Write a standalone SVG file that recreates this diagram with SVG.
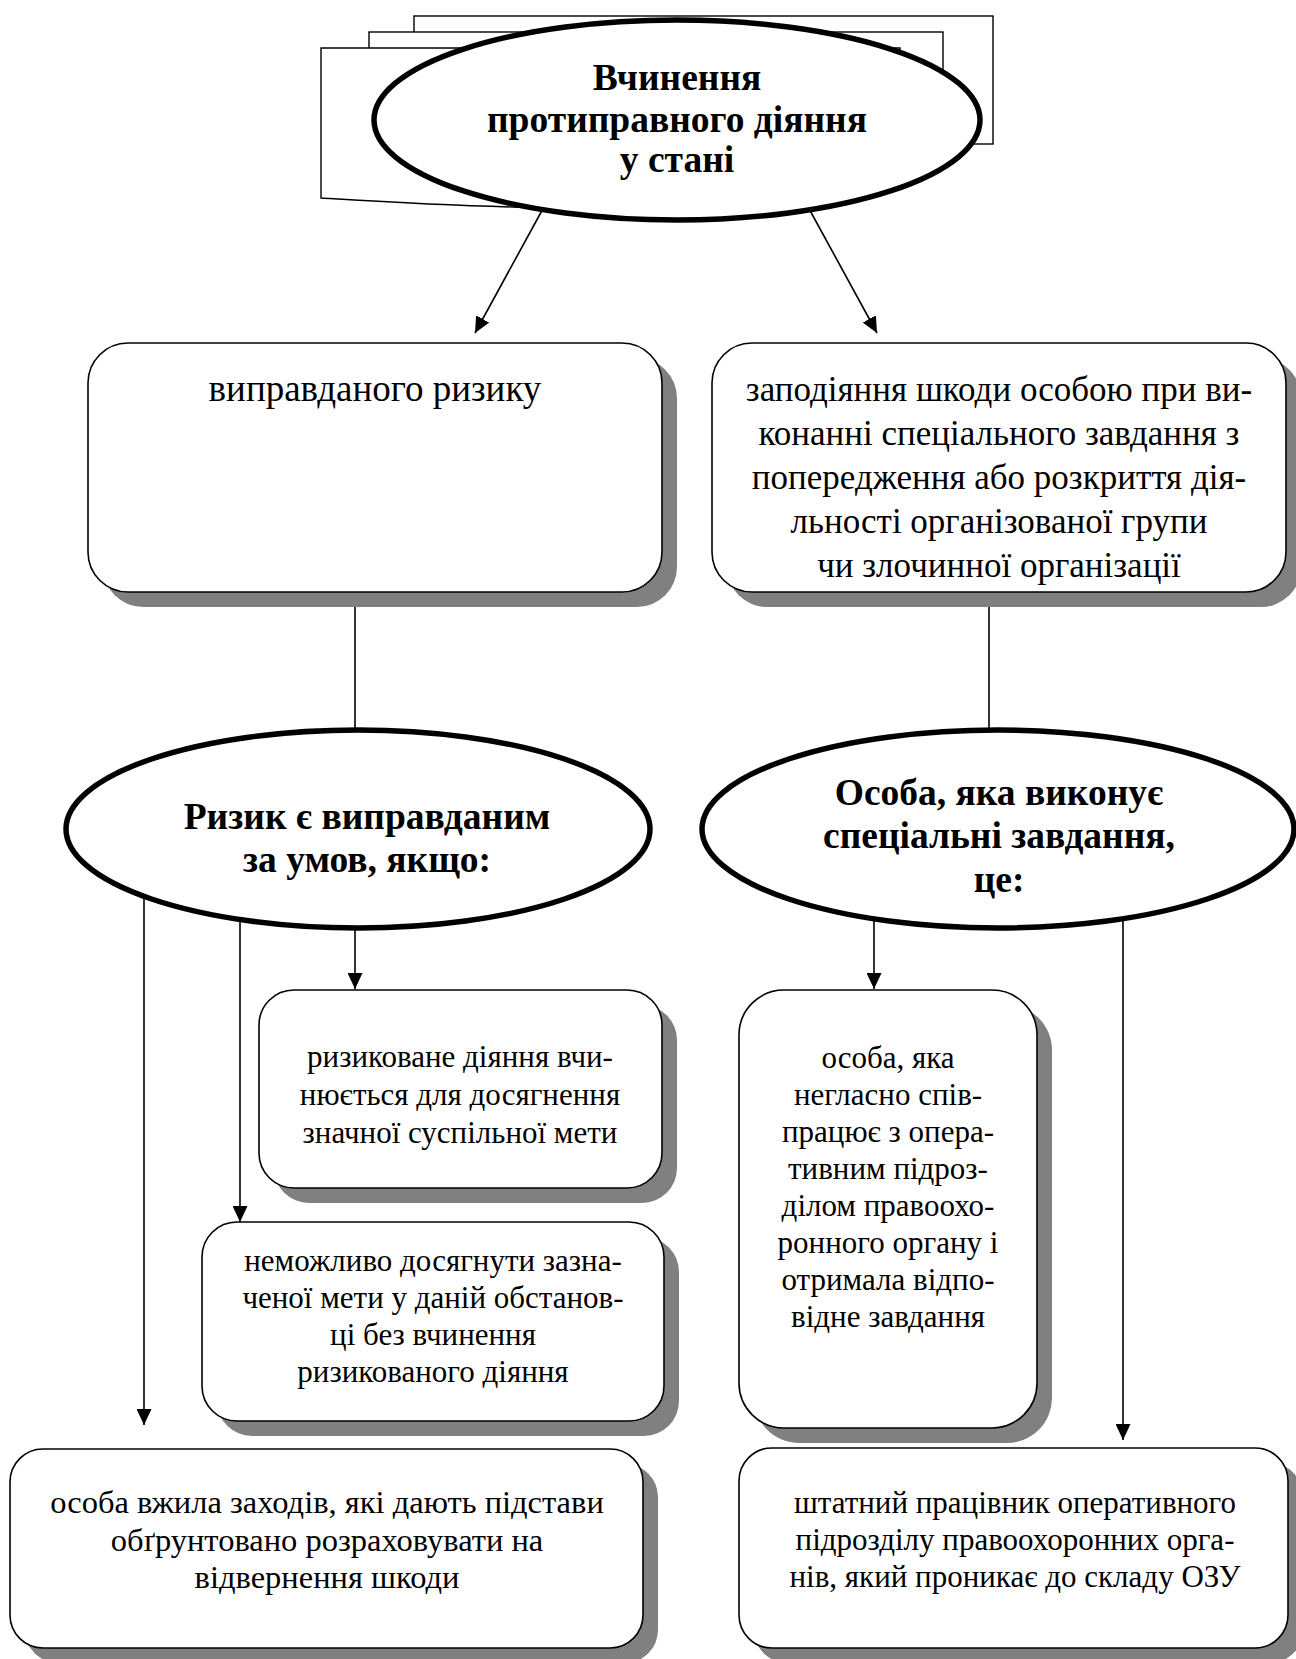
<svg xmlns="http://www.w3.org/2000/svg" width="1296" height="1659" viewBox="0 0 1296 1659">
<style>
.bg{fill:#ffffff}
.doc{fill:#ffffff;stroke:#000;stroke-width:1.4}
.ell{fill:#ffffff;stroke:#000;stroke-width:5.5}
.box{fill:#ffffff;stroke:#000;stroke-width:1.6}
.sh{fill:#808080}
.con{fill:none;stroke:#000;stroke-width:1.6}
.t{font-size:31px;fill:#000;text-anchor:middle}
.t37{font-size:37px;fill:#000;text-anchor:middle}
.t35{font-size:35px;fill:#000;text-anchor:middle}
.t33{font-size:32.5px;fill:#000;text-anchor:middle}
.b{font-size:37.5px;font-weight:bold;fill:#000;text-anchor:middle}
</style>
<defs>
<marker id="ah" markerUnits="userSpaceOnUse" markerWidth="16" markerHeight="15" refX="16" refY="7.5" orient="auto">
<path d="M0,0 L16,7.5 L0,15 Z" fill="#000"/>
</marker>
</defs>
<rect class="bg" x="0" y="0" width="1296" height="1659"/>

<g id="connectors">
<line class="con" x1="545" y1="205" x2="475" y2="333" marker-end="url(#ah)"/>
<line class="con" x1="807" y1="205" x2="877" y2="333" marker-end="url(#ah)"/>
<line class="con" x1="355" y1="592" x2="355" y2="740"/>
<line class="con" x1="989" y1="592" x2="989" y2="740"/>
<line class="con" x1="144" y1="880" x2="144" y2="1425" marker-end="url(#ah)"/>
<line class="con" x1="240" y1="900" x2="240" y2="1222" marker-end="url(#ah)"/>
<line class="con" x1="355" y1="910" x2="355" y2="989" marker-end="url(#ah)"/>
<line class="con" x1="874" y1="910" x2="874" y2="989" marker-end="url(#ah)"/>
<line class="con" x1="1123" y1="900" x2="1123" y2="1440" marker-end="url(#ah)"/>
</g>

<g font-family="'Liberation Serif', 'Times New Roman', 'DejaVu Serif', serif">
<g id="node-top">
<rect class="doc" x="414" y="16" width="579" height="128"/>
<rect class="doc" x="369" y="32" width="574" height="128"/>
<path class="doc" d="M321,48 H900 V182 C760,150 640,212 513,207 C430,205 370,201 321,198 Z"/>
<ellipse class="ell" cx="677" cy="120" rx="303" ry="100"/>
<text class="b" x="677" y="90">Вчинення</text>
<text class="b" x="677" y="132">протиправного діяння</text>
<text class="b" x="677" y="172">у стані</text>
</g>

<g id="node-risk">
<rect class="sh" x="103" y="358" width="574" height="249" rx="40"/>
<rect class="box" x="88" y="343" width="574" height="249" rx="40"/>
<text class="t37" x="375" y="401">виправданого ризику</text>
</g>

<g id="node-task">
<rect class="sh" x="727" y="358" width="574" height="249" rx="40"/>
<rect class="box" x="712" y="343" width="574" height="249" rx="40"/>
<text class="t35" x="999" y="401">заподіяння шкоди особою при ви-</text>
<text class="t35" x="999" y="445">конанні спеціального завдання з</text>
<text class="t35" x="999" y="489">попередження або розкриття дія-</text>
<text class="t35" x="999" y="533">льності організованої групи</text>
<text class="t35" x="999" y="577">чи злочинної організації</text>
</g>

<g id="node-risk-cond">
<ellipse class="ell" cx="358" cy="829" rx="292" ry="99"/>
<text class="b" x="367" y="829">Ризик є виправданим</text>
<text class="b" x="367" y="872">за умов, якщо:</text>
</g>

<g id="node-person">
<ellipse class="ell" cx="998" cy="829" rx="296" ry="99"/>
<text class="b" x="999" y="805">Особа, яка виконує</text>
<text class="b" x="999" y="848">спеціальні завдання,</text>
<text class="b" x="999" y="892">це:</text>
</g>

<g id="node-goal">
<rect class="sh" x="274" y="1005" width="403" height="198" rx="35"/>
<rect class="box" x="259" y="990" width="403" height="198" rx="35"/>
<text class="t" x="460" y="1067">ризиковане діяння вчи-</text>
<text class="t" x="460" y="1105">нюється для досягнення</text>
<text class="t" x="460" y="1143">значної суспільної мети</text>
</g>

<g id="node-impossible">
<rect class="sh" x="217" y="1237" width="462" height="199" rx="35"/>
<rect class="box" x="202" y="1222" width="462" height="199" rx="35"/>
<text class="t" x="433" y="1271">неможливо досягнути зазна-</text>
<text class="t" x="433" y="1308">ченої мети у даній обстанов-</text>
<text class="t" x="433" y="1345">ці без вчинення</text>
<text class="t" x="433" y="1382">ризикованого діяння</text>
</g>

<g id="node-secret">
<rect class="sh" x="754" y="1005" width="298" height="438" rx="45"/>
<rect class="box" x="739" y="990" width="298" height="438" rx="45"/>
<text class="t" x="888" y="1068">особа, яка</text>
<text class="t" x="888" y="1105">негласно спів-</text>
<text class="t" x="888" y="1142">працює з опера-</text>
<text class="t" x="888" y="1179">тивним підроз-</text>
<text class="t" x="888" y="1216">ділом правоохо-</text>
<text class="t" x="888" y="1253">ронного органу і</text>
<text class="t" x="888" y="1290">отримала відпо-</text>
<text class="t" x="888" y="1327">відне завдання</text>
</g>

<g id="node-measures">
<rect class="sh" x="25" y="1464" width="633" height="199" rx="33"/>
<rect class="box" x="10" y="1449" width="633" height="199" rx="33"/>
<text class="t33" x="327" y="1513">особа вжила заходів, які дають підстави</text>
<text class="t33" x="327" y="1551">обґрунтовано розраховувати на</text>
<text class="t33" x="327" y="1588">відвернення шкоди</text>
</g>

<g id="node-staff">
<rect class="sh" x="754" y="1463" width="549" height="200" rx="33"/>
<rect class="box" x="739" y="1448" width="549" height="200" rx="33"/>
<text class="t" x="1015" y="1513">штатний працівник оперативного</text>
<text class="t" x="1015" y="1550">підрозділу правоохоронних орга-</text>
<text class="t" x="1015" y="1587">нів, який проникає до складу ОЗУ</text>
</g>
</g>
</svg>
